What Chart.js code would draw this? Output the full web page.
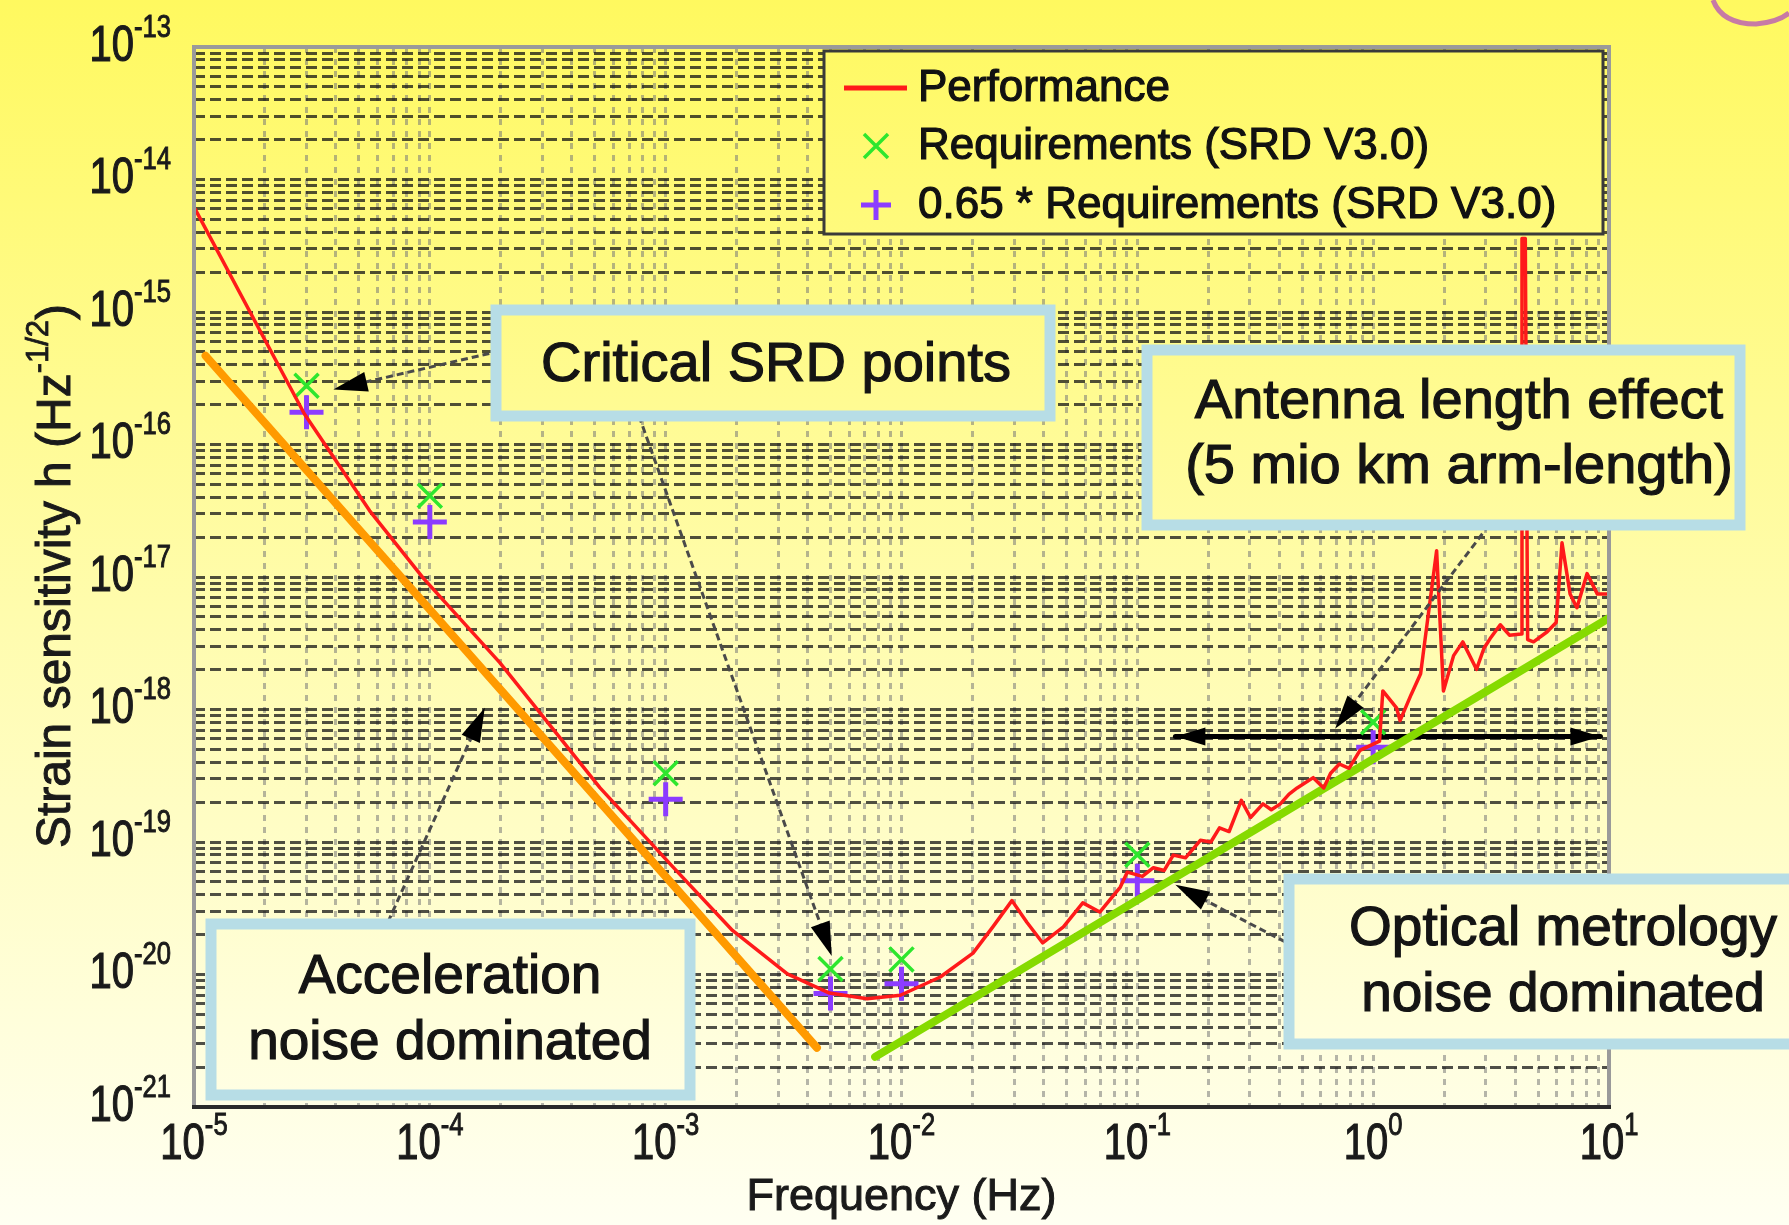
<!DOCTYPE html>
<html>
<head>
<meta charset="utf-8">
<script src="https://cdn.jsdelivr.net/npm/chart.js@4.4.1/dist/chart.umd.min.js"></script>
<style>
  html, body { margin: 0; padding: 0; overflow: hidden; background: #fffbb0; }
  canvas { display: block; }
</style>
</head>
<body>
<canvas id="chart" width="1789" height="1225"></canvas>
<script>
// Performance curve (Hz, strain per sqrt(Hz))
const perfFreq = [1.01e-5, 2.94e-5, 5.56e-5, 9.38e-5, 1.98e-4, 2.47e-4, 5.27e-4, 1.08e-3, 1.92e-3, 3.28e-3,
  4.95e-3, 7.15e-3, 9.89e-3, 1.46e-2, 2.01e-2, 2.44e-2, 2.94e-2, 3.40e-2, 3.97e-2, 4.86e-2,
  5.87e-2, 6.93e-2, 8.47e-2, 9.06e-2, 0.105, 0.117, 0.130, 0.142, 0.160, 0.185,
  0.205, 0.223, 0.245, 0.276, 0.302, 0.341, 0.370, 0.404, 0.440, 0.476,
  0.557, 0.617, 0.660, 0.719, 0.790, 0.879, 1.064, 1.099, 1.256, 1.300,
  1.450, 1.589, 1.626, 1.858, 1.986, 2.193, 2.399, 2.742, 2.95, 3.133,
  3.459, 3.784, 4.236, 4.276, 4.416, 4.519, 4.786, 5.47, 5.97, 6.32,
  6.84, 7.31, 8.07, 8.93, 10];
const perfStrain = [6.0e-15, 1.70e-16, 3.16e-17, 9.8e-18, 2.26e-18, 1.38e-18, 2.56e-19, 6.40e-20, 2.15e-20, 1.01e-20,
  7.24e-21, 6.56e-21, 6.97e-21, 9.57e-21, 1.45e-20, 2.29e-20, 3.61e-20, 2.48e-20, 1.73e-20, 2.29e-20,
  3.47e-20, 2.96e-20, 4.57e-20, 5.92e-20, 5.5e-20, 6.40e-20, 6.1e-20, 7.96e-20, 7.6e-20, 1.03e-19,
  1.0e-19, 1.28e-19, 1.2e-19, 2.06e-19, 1.53e-19, 1.94e-19, 1.75e-19, 1.94e-19, 2.3e-19, 2.56e-19,
  3.06e-19, 2.56e-19, 3.3e-19, 3.88e-19, 3.6e-19, 4.92e-19, 5.77e-19, 1.38e-18, 1.03e-18, 8.24e-19,
  1.3e-18, 1.86e-18, 2.55e-18, 1.58e-17, 1.38e-18, 2.55e-18, 3.24e-18, 2.01e-18, 2.9e-18, 3.43e-18,
  4.36e-18, 3.64e-18, 3.72e-18, 3.59e-15, 3.59e-15, 3.37e-18, 3.24e-18, 3.86e-18, 4.53e-18, 1.81e-17,
  7.43e-18, 5.86e-18, 1.06e-17, 7.43e-18, 7.43e-18];

// SRD V3.0 requirement points
const reqFreq = [3e-5, 1e-4, 1e-3, 5e-3, 1e-2, 1e-1, 1];
const reqStrain = [2.78e-16, 4.1e-17, 3.3e-19, 1.1e-20, 1.3e-20, 8.0e-20, 8.0e-19];
const req65Strain = [1.75e-16, 2.6e-17, 2.1e-19, 7.2e-21, 8.5e-21, 5.1e-20, 5.2e-19];

// noise asymptotes
const accelFreq = [1.12e-5, 4.38e-3];
const accelStrain = [4.67e-16, 2.80e-21];
const opticFreq = [7.73e-3, 10];
const opticStrain = [2.39e-21, 4.9e-18];

// antenna length double arrow
const armFreq = [0.145, 9.2];
const armStrain = [6.25e-19, 6.25e-19];

// axis decades (tick labels are 10^exp)
const xExps = ['-5', '-4', '-3', '-2', '-1', '0', '1'];
const yExps = ['-21', '-20', '-19', '-18', '-17', '-16', '-15', '-14', '-13'];

const FONT = "'Liberation Sans', Arial, sans-serif";

function pts(xs, ys) {
  return xs.map(function(x, i) { return { x: x, y: ys[i] }; });
}

// 1..9 x 10^k ticks so every minor grid line is drawn
function minorTicks(exps) {
  var out = [];
  for (var i = 0; i < exps.length; i++) {
    var k = parseInt(exps[i], 10);
    var last = i === exps.length - 1;
    for (var m = 1; m <= (last ? 1 : 9); m++) {
      out.push({ value: parseFloat(m + 'e' + k) });
    }
  }
  return out;
}

function bgGradient(ctx) {
  var g = ctx.createLinearGradient(0, 0, 0, 1225);
  g.addColorStop(0, '#fff95f');
  g.addColorStop(0.5, '#fffcad');
  g.addColorStop(1, '#fffff2');
  return g;
}

// filled text with a thin outline, the source image text is heavy
function heavyText(ctx, t, x, y, w) {
  ctx.lineWidth = w || 1;
  ctx.strokeStyle = ctx.fillStyle;
  ctx.strokeText(t, x, y);
  ctx.fillText(t, x, y);
}

function arrowHead(ctx, x1, y1, x2, y2, len, half) {
  var a = Math.atan2(y2 - y1, x2 - x1);
  ctx.beginPath();
  ctx.moveTo(x2, y2);
  ctx.lineTo(x2 - len * Math.cos(a) + half * Math.sin(a), y2 - len * Math.sin(a) - half * Math.cos(a));
  ctx.lineTo(x2 - len * Math.cos(a) - half * Math.sin(a), y2 - len * Math.sin(a) + half * Math.cos(a));
  ctx.closePath();
  ctx.fill();
}

function pointer(ctx, x1, y1, x2, y2) {
  var a = Math.atan2(y2 - y1, x2 - x1);
  ctx.save();
  ctx.strokeStyle = '#4a4a4a';
  ctx.lineWidth = 3;
  ctx.setLineDash([7, 4]);
  ctx.beginPath();
  ctx.moveTo(x1, y1);
  ctx.lineTo(x2 - 20 * Math.cos(a), y2 - 20 * Math.sin(a));
  ctx.stroke();
  ctx.setLineDash([]);
  ctx.fillStyle = '#000';
  arrowHead(ctx, x1, y1, x2, y2, 34, 10);
  ctx.restore();
}

function textBox(ctx, x1, y1, x2, y2, lines, cx, ys, size) {
  ctx.save();
  ctx.fillStyle = bgGradient(ctx);
  ctx.fillRect(x1, y1, x2 - x1, y2 - y1);
  ctx.strokeStyle = '#b7dde6';
  ctx.lineWidth = 11;
  ctx.strokeRect(x1, y1, x2 - x1, y2 - y1);
  ctx.fillStyle = '#141414';
  ctx.font = size + 'px ' + FONT;
  ctx.textAlign = 'center';
  ctx.textBaseline = 'middle';
  lines.forEach(function(t, i) { heavyText(ctx, t, cx, ys[i], 1.2); });
  ctx.restore();
}

// "10" with a raised exponent, condensed horizontally
function powLabel(ctx, exp, x, y, mode) {
  var sx = 0.8;
  ctx.save();
  ctx.font = '50px ' + FONT;
  var wb = ctx.measureText('10').width * sx;
  ctx.font = '32px ' + FONT;
  var we = ctx.measureText(exp).width * sx;
  var left = mode === 'x' ? x - (wb + we) / 2 : x - wb - we;
  ctx.translate(left, y);
  ctx.scale(sx, 1);
  ctx.textAlign = 'left';
  ctx.textBaseline = 'middle';
  ctx.font = '50px ' + FONT;
  heavyText(ctx, '10', 0, 0, 1.2);
  ctx.font = '32px ' + FONT;
  heavyText(ctx, exp, wb / sx, -19, 1);
  ctx.restore();
}

const decorations = {
  id: 'decorations',
  beforeDraw: function(chart) {
    var ctx = chart.ctx;
    ctx.save();
    ctx.fillStyle = bgGradient(ctx);
    ctx.fillRect(0, 0, chart.width, chart.height);
    // pink stroke in the top right corner
    ctx.strokeStyle = '#c77aa5';
    ctx.lineWidth = 5;
    ctx.beginPath();
    ctx.moveTo(1713, 0);
    ctx.quadraticCurveTo(1722, 24, 1756, 24);
    ctx.quadraticCurveTo(1778, 22, 1789, 13);
    ctx.stroke();
    ctx.restore();
  },
  afterDatasetsDraw: function(chart) {
    var ctx = chart.ctx, a = chart.chartArea;
    var xs = chart.scales.x, ys = chart.scales.y;
    ctx.save();
    // axes box
    ctx.lineWidth = 4;
    ctx.strokeStyle = '#9a9a9a';
    ctx.beginPath();
    ctx.moveTo(a.left, a.bottom); ctx.lineTo(a.left, a.top); ctx.lineTo(a.right, a.top); ctx.lineTo(a.right, a.bottom);
    ctx.stroke();
    ctx.strokeStyle = '#2a2a2a';
    ctx.beginPath();
    ctx.moveTo(a.left - 2, a.bottom); ctx.lineTo(a.right + 2, a.bottom);
    ctx.stroke();

    // arrowheads of the antenna-length arrow
    var m = chart.getDatasetMeta(5).data;
    ctx.fillStyle = '#000';
    arrowHead(ctx, m[1].x, m[1].y, m[0].x, m[0].y, 30, 9);
    arrowHead(ctx, m[0].x, m[0].y, m[1].x, m[1].y, 30, 9);

    // tick labels
    ctx.fillStyle = '#1a1a1a';
    xExps.forEach(function(e) {
      powLabel(ctx, e, xs.getPixelForValue(parseFloat('1e' + e)), a.bottom + 38, 'x');
    });
    yExps.forEach(function(e) {
      powLabel(ctx, e, a.left - 23, ys.getPixelForValue(parseFloat('1e' + e)), 'y');
    });

    // axis titles
    ctx.font = '45px ' + FONT;
    ctx.textAlign = 'center';
    ctx.textBaseline = 'middle';
    heavyText(ctx, 'Frequency (Hz)', (a.left + a.right) / 2, 1198, 1);

    ctx.translate(57, 576);
    ctx.rotate(-Math.PI / 2);
    var main = 'Strain sensitivity h (Hz';
    ctx.font = '48px ' + FONT;
    var w1 = ctx.measureText(main).width, w3 = ctx.measureText(')').width;
    ctx.font = '31px ' + FONT;
    var w2 = ctx.measureText('-1/2').width;
    var x0 = -(w1 + w2 + w3) / 2;
    ctx.textAlign = 'left';
    ctx.font = '48px ' + FONT;
    heavyText(ctx, main, x0, 0, 1);
    heavyText(ctx, ')', x0 + w1 + w2, 0, 1);
    ctx.font = '31px ' + FONT;
    heavyText(ctx, '-1/2', x0 + w1, -18, 0.8);
    ctx.restore();
  },
  afterDraw: function(chart) {
    var ctx = chart.ctx;
    var xs = chart.scales.x, ys = chart.scales.y;
    function px(f) { return xs.getPixelForValue(f); }
    function py(h) { return ys.getPixelForValue(h); }

    // legend
    ctx.save();
    ctx.fillStyle = bgGradient(ctx);
    ctx.fillRect(824, 51, 779, 183);
    ctx.strokeStyle = '#3a3a3a';
    ctx.lineWidth = 3;
    ctx.strokeRect(824, 51, 779, 183);
    ctx.strokeStyle = '#ff1a1a';
    ctx.lineWidth = 5;
    ctx.beginPath(); ctx.moveTo(844, 88); ctx.lineTo(907, 88); ctx.stroke();
    ctx.strokeStyle = '#2ee62e';
    ctx.lineWidth = 3.5;
    ctx.beginPath();
    ctx.moveTo(864, 134); ctx.lineTo(888, 158); ctx.moveTo(888, 134); ctx.lineTo(864, 158);
    ctx.stroke();
    ctx.strokeStyle = '#8c3cff';
    ctx.lineWidth = 5;
    ctx.beginPath();
    ctx.moveTo(861, 205); ctx.lineTo(891, 205); ctx.moveTo(876, 190); ctx.lineTo(876, 220);
    ctx.stroke();
    ctx.fillStyle = '#111';
    ctx.font = '44px ' + FONT;
    ctx.textAlign = 'left';
    ctx.textBaseline = 'middle';
    heavyText(ctx, 'Performance', 918, 89, 1.2);
    heavyText(ctx, 'Requirements (SRD V3.0)', 918, 147, 1.2);
    heavyText(ctx, '0.65 * Requirements (SRD V3.0)', 918, 206, 1.2);
    ctx.restore();

    // pointers from the labels to the curves
    pointer(ctx, 500, 351, px(3.9e-5), py(2.6e-16));
    pointer(ctx, 639, 416, px(5.06e-3), py(1.38e-20));
    pointer(ctx, 1489, 525, px(0.689), py(7.16e-19));
    pointer(ctx, 388, 922, px(1.71e-4), py(1.03e-18));
    pointer(ctx, 1295, 947, px(0.145), py(4.75e-20));

    // labels
    textBox(ctx, 496, 310, 1050, 416, ['Critical SRD points'], 776, [366], 56);
    textBox(ctx, 1147, 350, 1740, 525, ['Antenna length effect', '(5 mio km arm-length)'], 1459, [403, 468], 56);
    textBox(ctx, 211, 924, 690, 1095, ['Acceleration', 'noise dominated'], 450, [978, 1044], 55);
    textBox(ctx, 1289, 879, 1800, 1044, ['Optical metrology', 'noise dominated'], 1563, [930, 996], 55);
  }
};

const lineOpts = { showLine: true, pointRadius: 0, tension: 0, borderJoinStyle: 'round', borderCapStyle: 'round' };

new Chart(document.getElementById('chart'), {
  type: 'scatter',
  data: {
    datasets: [
      Object.assign({ label: 'Performance', data: pts(perfFreq, perfStrain), borderColor: '#ff1a1a', borderWidth: 3.5 }, lineOpts),
      Object.assign({ label: 'Acceleration noise', data: pts(accelFreq, accelStrain), borderColor: '#ff9a00', borderWidth: 8 }, lineOpts),
      Object.assign({ label: 'Optical metrology noise', data: pts(opticFreq, opticStrain), borderColor: '#86da00', borderWidth: 8 }, lineOpts),
      { label: 'Requirements (SRD V3.0)', data: pts(reqFreq, reqStrain), pointStyle: 'crossRot',
        pointRadius: 17, borderWidth: 3.5, borderColor: '#2ee62e', backgroundColor: '#2ee62e', showLine: false },
      { label: '0.65 * Requirements (SRD V3.0)', data: pts(reqFreq, req65Strain), pointStyle: 'cross',
        pointRadius: 17, borderWidth: 5, borderColor: '#8c3cff', backgroundColor: '#8c3cff', showLine: false },
      Object.assign({ label: 'Arm length', data: pts(armFreq, armStrain), borderColor: '#000', borderWidth: 5 }, lineOpts)
    ]
  },
  options: {
    responsive: false,
    devicePixelRatio: 1,
    animation: false,
    events: [],
    layout: { padding: { left: 194, right: 180, top: 47, bottom: 118 } },
    plugins: { legend: { display: false }, tooltip: { enabled: false } },
    scales: {
      x: {
        type: 'logarithmic', min: 1e-5, max: 10,
        afterBuildTicks: function(s) { s.ticks = minorTicks(xExps); },
        ticks: { display: false, autoSkip: false },
        grid: { color: 'rgba(120,120,120,0.55)', lineWidth: 3, drawTicks: false },
        border: { display: false, dash: [6, 6] }
      },
      y: {
        type: 'logarithmic', min: 1e-21, max: 1e-13,
        afterBuildTicks: function(s) { s.ticks = minorTicks(yExps); },
        ticks: { display: false, autoSkip: false },
        grid: { color: 'rgba(20,20,20,0.75)', lineWidth: 3, drawTicks: false },
        border: { display: false, dash: [11, 5] }
      }
    }
  },
  plugins: [decorations]
});
</script>
</body>
</html>
